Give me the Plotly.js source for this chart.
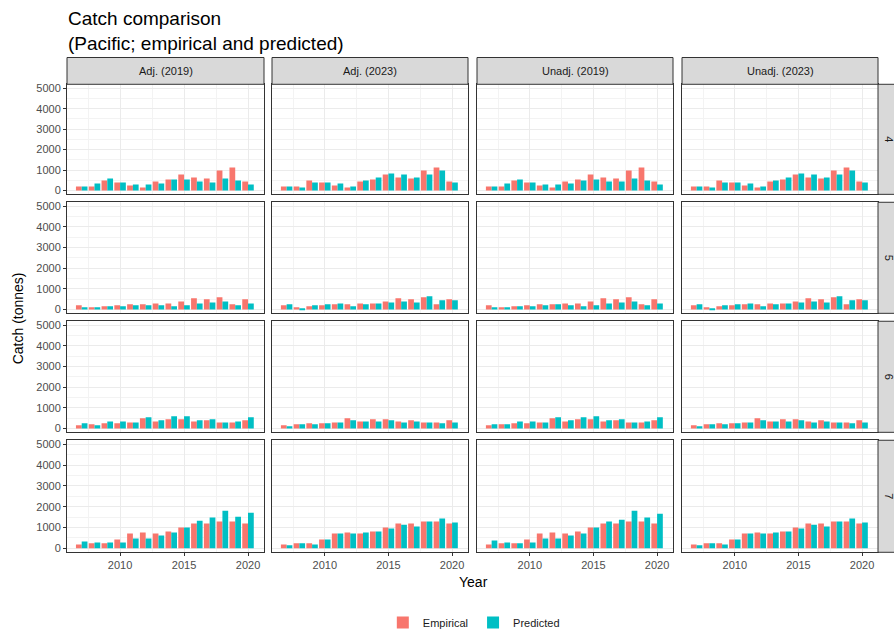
<!DOCTYPE html>
<html><head><meta charset="utf-8">
<script src="https://cdn.plot.ly/plotly-3.0.1.min.js"></script>
<style>body{margin:0}#c{width:894px;height:637px}</style></head>
<body><div id="c"></div><script>
const years=[2007,2008,2009,2010,2011,2012,2013,2014,2015,2016,2017,2018,2019,2020];
const columns=["Adj. (2019)","Adj. (2023)","Unadj. (2019)","Unadj. (2023)"];
const areas=["4","5","6","7"];
// area 4
const emp4_adj19=[200,200,490,390,245,150,440,540,780,640,590,980,1120,440];
const pred4_adj19=[200,340,590,390,290,290,340,540,540,440,390,590,490,290];
const emp4_adj23=[200,200,490,390,245,150,440,540,780,640,590,980,1120,440];
const pred4_adj23=[200,150,390,390,340,200,490,640,830,780,640,780,980,390];
const emp4_un19=[200,200,490,390,245,150,440,540,780,640,590,980,1120,440];
const pred4_un19=[200,340,540,390,290,290,340,490,540,440,440,590,490,290];
const emp4_un23=[200,200,490,390,245,150,440,540,780,640,590,980,1120,440];
const pred4_un23=[200,150,390,390,340,200,490,640,830,780,640,780,980,390];
// area 5
const emp5_adj19=[200,100,150,200,245,245,290,290,390,540,490,590,245,490];
const pred5_adj19=[100,100,150,150,200,200,200,150,200,290,340,390,200,290];
const emp5_adj23=[200,100,150,200,245,245,290,290,390,540,490,590,245,490];
const pred5_adj23=[245,50,200,245,290,150,245,290,340,390,340,640,440,440];
const emp5_un19=[200,100,150,200,245,245,290,290,390,540,490,590,245,490];
const pred5_un19=[100,100,150,150,200,245,200,150,200,290,340,390,200,290];
const emp5_un23=[200,100,150,200,245,245,290,290,390,540,490,590,245,490];
const pred5_un23=[245,50,200,245,290,150,245,290,340,390,340,640,440,440];
// area 6
const emp6_adj19=[150,200,245,245,290,490,340,440,440,340,390,290,290,390];
const pred6_adj19=[245,150,340,340,290,540,390,590,590,390,440,290,340,540];
const emp6_adj23=[150,200,245,245,290,490,340,440,440,340,390,290,290,390];
const pred6_adj23=[100,200,200,245,290,390,340,340,390,290,340,290,245,290];
const emp6_un19=[150,200,245,245,290,490,340,440,440,340,390,290,290,390];
const pred6_un19=[200,200,340,340,290,540,390,540,590,390,440,290,340,540];
const emp6_un23=[150,200,245,245,290,490,340,440,440,340,390,290,290,390];
const pred6_un23=[100,200,200,245,290,390,340,340,390,290,340,290,245,290];
// area 7
const emp7_adj19=[190,240,240,430,715,760,715,810,1000,1190,1190,1290,1290,1190];
const pred7_adj19=[330,285,285,285,475,475,620,760,1000,1330,1480,1810,1520,1710];
const emp7_adj23=[190,240,240,430,715,760,715,810,1000,1190,1190,1290,1290,1190];
const pred7_adj23=[145,240,190,430,715,715,760,810,950,1140,1050,1290,1430,1240];
const emp7_un19=[190,240,240,430,715,760,715,810,1000,1190,1190,1290,1290,1190];
const pred7_un19=[380,285,240,285,475,475,620,715,1000,1290,1380,1810,1480,1670];
const emp7_un23=[190,240,240,430,715,760,715,810,1000,1190,1190,1290,1290,1190];
const pred7_un23=[145,240,190,430,715,715,760,810,950,1140,1050,1290,1430,1240];

const empirical=[[emp4_adj19,emp4_adj23,emp4_un19,emp4_un23],[emp5_adj19,emp5_adj23,emp5_un19,emp5_un23],[emp6_adj19,emp6_adj23,emp6_un19,emp6_un23],[emp7_adj19,emp7_adj23,emp7_un19,emp7_un23]];
const predicted=[[pred4_adj19,pred4_adj23,pred4_un19,pred4_un23],[pred5_adj19,pred5_adj23,pred5_un19,pred5_un23],[pred6_adj19,pred6_adj23,pred6_un19,pred6_un23],[pred7_adj19,pred7_adj23,pred7_un19,pred7_un23]];

const W=894,H=637,B=45,PH=H-B;
const px=x=>x/W, py=y=>(PH-y)/PH;
const colX=[[67,264],[272,468],[477,673],[682,878]];
const rowY=[[85,196],[204,316],[324,436],[444,557]];
const traces=[],layout={width:W,height:H,margin:{l:0,r:0,t:0,b:B},paper_bgcolor:'white',plot_bgcolor:'white',
 barmode:'group',bargap:0.1,bargroupgap:0,font:{family:'Liberation Sans, Arial',color:'#4d4d4d',size:11},
 showlegend:true,legend:{orientation:'h',x:0.53,xanchor:'center',y:py(628),yanchor:'middle',font:{size:11,color:'#1a1a1a'}},
 shapes:[],annotations:[]};
for(let r=0;r<4;r++)for(let c=0;c<4;c++){
 const i=r*4+c+1, xa='x'+(i===1?'':i), ya='y'+(i===1?'':i);
 traces.push({type:'bar',x:years,y:empirical[r][c],name:'Empirical',marker:{color:'#F8766D'},xaxis:xa,yaxis:ya,showlegend:i===1,legendgroup:'e'});
 traces.push({type:'bar',x:years,y:predicted[r][c],name:'Predicted',marker:{color:'#00BFC4'},xaxis:xa,yaxis:ya,showlegend:i===1,legendgroup:'p'});
 const xk='xaxis'+(i===1?'':i), yk='yaxis'+(i===1?'':i);
 layout[xk]={domain:[px(colX[c][0]),px(colX[c][1])],range:[2005.85,2021.25],anchor:ya,tickvals:[2010,2015,2020],showticklabels:r===3,
  ticks:r===3?'outside':'',ticklen:3,tickcolor:'#333',showgrid:true,gridcolor:'#ebebeb',gridwidth:1,
  minor:{tickvals:[2007.5,2012.5,2017.5],showgrid:true,gridcolor:'#f3f3f3'},
  showline:true,mirror:true,linecolor:'#333',linewidth:1,zeroline:false,tickfont:{size:11,color:'#4d4d4d'}};
 layout[yk]={domain:[py(rowY[r][1]),py(rowY[r][0])],range:[-190,5200],anchor:xa,tickvals:[0,1000,2000,3000,4000,5000],
  showticklabels:c===0,ticks:c===0?'outside':'',ticklen:3,tickcolor:'#333',showgrid:true,gridcolor:'#ebebeb',
  minor:{tickvals:[500,1500,2500,3500,4500],showgrid:true,gridcolor:'#f3f3f3'},
  showline:true,mirror:true,linecolor:'#333',linewidth:1,zeroline:false,tickfont:{size:11,color:'#4d4d4d'}};
}
function ann(x,y,text,o){return Object.assign({xref:'paper',yref:'paper',x:px(x),y:py(y),text:text,showarrow:false,xanchor:'center',yanchor:'middle'},o);}
for(let c=0;c<4;c++){
 layout.shapes.push({type:'rect',xref:'paper',yref:'paper',x0:px(colX[c][0]),x1:px(colX[c][1]),y0:py(85),y1:py(58),fillcolor:'#d9d9d9',line:{color:'#333',width:1}});
 layout.annotations.push(ann((colX[c][0]+colX[c][1])/2,71.5,columns[c],{font:{size:11,color:'#1a1a1a'}}));
}
for(let r=0;r<4;r++){
 layout.shapes.push({type:'rect',xref:'paper',yref:'paper',x0:px(878),x1:px(905),y0:py(rowY[r][1]),y1:py(rowY[r][0]),fillcolor:'#d9d9d9',line:{color:'#333',width:1}});
 layout.annotations.push(ann(889,(rowY[r][0]+rowY[r][1])/2,areas[r],{textangle:90,font:{size:11,color:'#1a1a1a'}}));
}
layout.annotations.push(ann(66,6,'Catch comparison<br>(Pacific; empirical and predicted)',{xanchor:'left',yanchor:'top',align:'left',font:{size:19,color:'#000'}}));
layout.annotations.push(ann(473,587,'Year',{font:{size:14,color:'#000'}}));
layout.annotations.push(ann(18,321,'Catch (tonnes)',{textangle:-90,font:{size:14,color:'#000'}}));
Plotly.newPlot('c',traces,layout,{displayModeBar:false});
</script></body></html>
